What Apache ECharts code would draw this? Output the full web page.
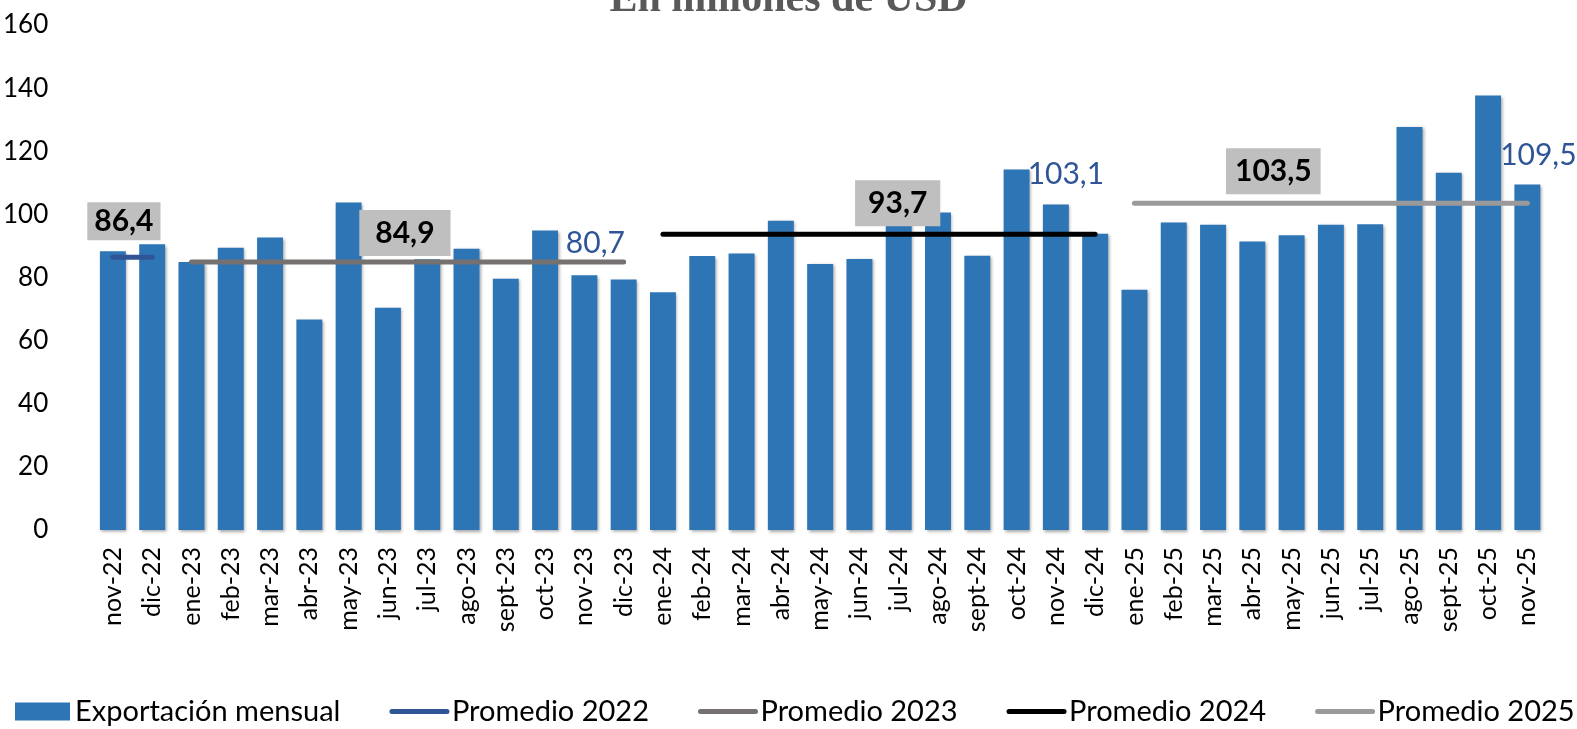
<!DOCTYPE html>
<html>
<head>
<meta charset="utf-8">
<script src="https://cdn.jsdelivr.net/npm/echarts@6/dist/echarts.min.js"></script>
<style>
  html, body { margin: 0; padding: 0; background: #fff; }
  #chart { width: 1577px; height: 729px; }
</style>
</head>
<body>
<div id="chart"></div>
<script>
// Exportación mensual, en millones de USD
const categories = ['nov-22', 'dic-22', 'ene-23', 'feb-23', 'mar-23', 'abr-23', 'may-23', 'jun-23', 'jul-23',
    'ago-23', 'sept-23', 'oct-23', 'nov-23', 'dic-23', 'ene-24', 'feb-24', 'mar-24', 'abr-24', 'may-24',
    'jun-24', 'jul-24', 'ago-24', 'sept-24', 'oct-24', 'nov-24', 'dic-24', 'ene-25', 'feb-25', 'mar-25',
    'abr-25', 'may-25', 'jun-25', 'jul-25', 'ago-25', 'sept-25', 'oct-25', 'nov-25'];
const exportacion = [88.3, 90.5, 84.9, 89.4, 92.7, 66.7, 103.8, 70.4, 85.8, 89.1, 79.6, 94.9, 80.7, 79.4,
    75.3, 86.8, 87.6, 98.0, 84.3, 85.9, 107.5, 100.6, 86.9, 114.2, 103.1, 93.9,
    76.1, 97.4, 96.7, 91.4, 93.4, 96.7, 96.9, 127.7, 113.2, 137.7, 109.5];
// promedio anual
const promedioYears = ['22', '23', '24', '25'];
const promedioValues = [86.4, 84.9, 93.7, 103.5];
const promedioNames = ['Promedio 2022', 'Promedio 2023', 'Promedio 2024', 'Promedio 2025'];
const yTicks = [0, 20, 40, 60, 80, 100, 120, 140, 160];

const FONT = 'Lato, "Noto Sans", sans-serif';
const fmt = v => v.toFixed(1).replace('.', ',');

var myChart = echarts.init(document.getElementById('chart'));

const lineColors = ['#2F5597', '#767171', '#000000', '#9A9A9A'];
// where each average label sits: category index, x offset, distance, padding
const avgLabel = [
    { idx: 0, dx: 11, dist: 17, pad: [4, 7] },
    { idx: 7, dx: 17, dist: 6, pad: [8, 16] },
    { idx: 20, dx: -1, dist: 8, pad: [8, 13] },
    { idx: 29, dx: 21, dist: 9, pad: [8, 9] }
];
// blue value labels on the november bars
const barLabel = { 12: [11, 17], 24: [10, 15], 36: [11, 14] };

const lineSeries = promedioYears.map((yy, k) => ({
    name: promedioNames[k],
    type: 'line',
    symbol: 'circle',
    symbolSize: 0,
    lineStyle: { color: lineColors[k], width: 5, cap: 'round' },
    itemStyle: { color: lineColors[k] },
    emphasis: { disabled: true },
    z: 3,
    data: categories.map((c, i) => {
        if (!c.endsWith('-' + yy)) return '-';
        if (i === avgLabel[k].idx) {
            return {
                value: promedioValues[k],
                label: {
                    show: true,
                    position: 'top',
                    distance: avgLabel[k].dist,
                    offset: [avgLabel[k].dx, 0],
                    formatter: () => fmt(promedioValues[k]),
                    backgroundColor: '#BFBFBF',
                    padding: avgLabel[k].pad,
                    color: '#000',
                    fontFamily: FONT,
                    fontWeight: 'bold',
                    fontSize: 30,
                    lineHeight: 30
                }
            };
        }
        return promedioValues[k];
    })
}));

let option = {
    animation: false,
    title: {
        text: 'En millones de USD',
        left: 'center',
        top: -26,
        textStyle: {
            fontFamily: '"Liberation Serif", "DejaVu Serif", serif',
            fontWeight: 'bold',
            fontSize: 42,
            lineHeight: 42,
            color: '#595959'
        }
    },
    grid: { left: 90, right: 30, top: 25, bottom: 199, containLabel: false },
    legend: {
        left: 10,
        top: 692,
        width: 1575,
        itemGap: 49,
        itemWidth: 55,
        itemHeight: 18,
        textStyle: { fontFamily: FONT, fontSize: 29, color: '#000' },
        data: [{ name: 'Exportación mensual', icon: 'rect' }].concat(promedioNames.map(n => ({
            name: n,
            itemStyle: { opacity: 0 },
            lineStyle: { width: 5, cap: 'round' }
        })))
    },
    xAxis: {
        type: 'category',
        data: categories,
        axisLine: { show: false },
        axisTick: { show: false },
        axisLabel: {
            rotate: 90,
            interval: 0,
            margin: 17,
            fontFamily: FONT,
            fontSize: 25,
            color: '#000'
        }
    },
    yAxis: {
        type: 'value',
        min: yTicks[0],
        max: yTicks[yTicks.length - 1],
        interval: 20,
        splitLine: { show: false },
        axisLine: { show: false },
        axisTick: { show: false },
        axisLabel: {
            margin: 45,
            fontFamily: FONT,
            fontSize: 26,
            color: '#000'
        }
    },
    series: [
        {
            name: 'Exportación mensual',
            type: 'bar',
            barCategoryGap: '34%',
            itemStyle: {
                color: '#2E75B6',
                shadowColor: 'rgba(0,0,0,0.35)',
                shadowBlur: 3,
                shadowOffsetX: 1.5,
                shadowOffsetY: 1.5
            },
            emphasis: { disabled: true },
            z: 2,
            data: exportacion.map((v, i) => {
                if (!barLabel[i]) return v;
                return {
                    value: v,
                    label: {
                        show: true,
                        position: 'top',
                        distance: barLabel[i][1],
                        offset: [barLabel[i][0], 0],
                        formatter: () => fmt(v),
                        color: '#2F5597',
                        fontFamily: FONT,
                        fontSize: 30,
                        lineHeight: 30
                    }
                };
            })
        },
        ...lineSeries
    ]
};
myChart.setOption(option);
</script>
</body>
</html>
